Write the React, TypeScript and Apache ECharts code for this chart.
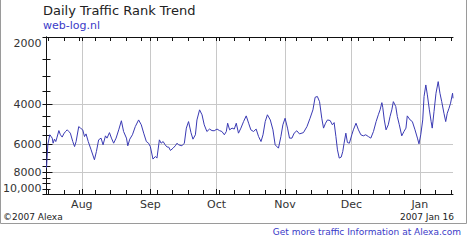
import React, { useEffect, useRef } from "react";
import * as echarts from "echarts";

// Day offsets counted from 2006-07-16 (day 0) to 2007-01-16 (day 184)
const monthDays = [16, 47, 77, 108, 138, 169];
const monthNames = ["Aug", "Sep", "Oct", "Nov", "Dec", "Jan"];
const weekTicks = [1, 8, 15, 22, 29, 36, 43, 50, 57, 64, 71, 78, 85, 92, 99, 106, 113, 120, 127, 134, 141, 148, 155, 162, 169, 176, 183];
const yLabelValues = [2000, 4000, 6000, 8000, 10000];
const yMinorTicks = [2000, 2500, 3000, 3500, 4000, 4500, 5000, 5500, 6000, 6500, 7000, 7500, 8000, 8500, 9000, 9500, 10000];

const dayOffsets = [
  0, 0.6, 1.5, 2.6, 3.0, 3.6, 4.2, 4.8, 5.6, 6.3,
  7.1, 7.8, 8.6, 9.4, 10.1, 10.8, 11.9, 12.7, 13.4, 14.6,
  15.4, 16.4, 17.2, 17.9, 18.9, 20.2, 21.7, 22.6, 23.6, 24.7,
  25.6, 26.7, 27.4, 28.5, 29.4, 30.4, 31.5, 32.7, 33.9, 34.9,
  36.2, 36.8, 37.7, 38.9, 40.2, 41.7, 42.9, 44.0, 45.2, 46.2,
  47.0, 48.2, 49.3, 50.0, 51.1, 51.9, 52.8, 53.7, 54.6, 55.3,
  56.1, 57.3, 58.3, 59.1, 59.8, 61.3, 62.4, 63.3, 64.3, 65.4,
  66.3, 67.4, 68.1, 69.3, 70.4, 71.4, 72.6, 73.8, 74.9, 75.9,
  77.2, 78.3, 79.4, 80.5, 81.4, 82.0, 82.9, 84.0, 85.0, 85.9,
  86.9, 88.0, 89.2, 90.4, 91.5, 92.5, 93.7, 94.9, 96.0, 97.1,
  98.0, 99.0, 100.0, 101.3, 102.5, 103.5, 105.0, 106.1, 107.0, 108.0,
  109.1, 110.0, 111.1, 112.1, 113.3, 114.5, 116.3, 117.9, 119.3, 120.6,
  121.6, 122.6, 123.6, 124.6, 125.4, 126.3, 127.2, 128.4, 129.4, 130.2,
  131.0, 131.7, 132.5, 133.4, 134.1, 134.7, 135.5, 136.2, 137.1, 138.2,
  138.9, 140.1, 141.2, 142.3, 143.4, 144.5, 145.7, 146.8, 148.0, 149.2,
  150.2, 151.0, 151.8, 152.2, 152.9, 153.7, 154.7, 155.5, 156.3, 157.0,
  158.1, 158.8, 159.7, 160.8, 161.8, 162.7, 163.3, 164.6, 165.6, 166.8,
  167.9, 168.6, 169.4, 170.3, 170.9, 171.7, 172.4, 173.3, 174.1, 174.6,
  175.4, 176.3, 177.3, 178.1, 178.9, 179.9, 180.7, 181.4, 182.2, 182.9,
  183.8, 184.0,
];

const ranks = [
  7670, 6040, 5450, 5640, 5940, 5700, 5840, 5580, 5220, 5450,
  5580, 5400, 5270, 5180, 5270, 5360, 5840, 6150, 5840, 5010,
  5090, 5180, 5550, 5400, 5840, 6360, 7040, 6470, 5740, 5640,
  6040, 5510, 5640, 5330, 5640, 5940, 5640, 5180, 4720, 5270,
  5640, 6100, 5700, 5450, 5010, 4680, 4920, 5360, 5840, 5940,
  6150, 6990, 6810, 6920, 5740, 5940, 5840, 6040, 6180, 6180,
  6400, 6250, 6100, 5940, 6040, 6100, 5940, 5090, 4760, 5330,
  5700, 5450, 4680, 4220, 4440, 4920, 5270, 5140, 5220, 5230,
  5140, 5220, 5270, 5450, 5270, 4840, 5180, 5090, 5140, 4840,
  5360, 5090, 4760, 4490, 4840, 5180, 5270, 5140, 5550, 5840,
  5450, 4760, 4440, 4680, 5180, 6040, 6250, 5550, 4920, 4600,
  5090, 5640, 5640, 5360, 5230, 5400, 5330, 5010, 4600, 4220,
  3710, 3680, 3880, 4600, 5090, 4840, 4680, 4710, 4920, 4810,
  5550, 6360, 6920, 6850, 6470, 5940, 5360, 5900, 5940, 5450,
  5180, 4840, 5180, 5450, 5510, 5450, 5550, 5640, 5270, 4760,
  4440, 4220, 3920, 4110, 4680, 5180, 4920, 4520, 4220, 3880,
  4080, 4520, 4920, 5510, 5270, 5090, 4490, 4680, 4760, 5180,
  5640, 5980, 5450, 4680, 3680, 3270, 3620, 4220, 4760, 5090,
  4300, 3560, 3160, 3560, 3880, 4370, 4760, 4370, 4150, 3940,
  3560, 3750,
];

const FONT = "DejaVu Sans, Verdana, sans-serif";
const AXIS_COLOR = "#111";
const LABEL_COLOR = "#333";

export default function App() {
  const ref = useRef<HTMLDivElement>(null);

  useEffect(() => {
    if (!ref.current) return;
    const chart = echarts.init(ref.current, undefined, { renderer: "svg" });
    const n = Math.min(dayOffsets.length, ranks.length);
    const data: [number, number][] = [];
    for (let i = 0; i < n; i++) data.push([dayOffsets[i], ranks[i]]);

    const allTopTicks = Array.from(new Set([...monthDays, ...weekTicks])).sort((a, b) => a - b);

    const baseX = {
      type: "value" as const,
      min: 0,
      max: 184,
      splitLine: { show: false },
      axisLabel: { show: false },
    };
    const baseY = {
      type: "log" as const,
      logBase: 10,
      min: 2000,
      max: 10000,
      inverse: true,
      splitLine: { show: false },
      axisLabel: { show: false },
    };

    chart.setOption({
      animation: false,
      backgroundColor: "#fff",
      grid: { left: 46, top: 37, width: 407, height: 157, containLabel: false },
      xAxis: [
        {
          ...baseX,
          position: "bottom",
          axisLine: { show: true, lineStyle: { color: AXIS_COLOR, width: 1 } },
          axisTick: { show: true, inside: true, length: 5, customValues: monthDays, lineStyle: { color: AXIS_COLOR } },
          axisLabel: {
            show: true,
            customValues: monthDays,
            margin: 5,
            fontSize: 11,
            fontFamily: FONT,
            color: LABEL_COLOR,
            formatter: (v: number) => {
              const idx = monthDays.indexOf(Math.round(v));
              return idx >= 0 ? monthNames[idx] : "";
            },
          },
          splitLine: { show: true, lineStyle: { color: "#c8c8c8", width: 1 } },
        },
        {
          ...baseX,
          position: "bottom",
          axisLine: { show: false },
          axisTick: { show: true, inside: true, length: 4, customValues: weekTicks, lineStyle: { color: AXIS_COLOR } },
        },
        {
          ...baseX,
          position: "top",
          axisLine: { show: true, lineStyle: { color: AXIS_COLOR, width: 1 } },
          axisTick: { show: true, inside: true, length: 4, customValues: allTopTicks, lineStyle: { color: AXIS_COLOR } },
        },
      ],
      yAxis: [
        {
          ...baseY,
          position: "left",
          axisLine: { show: true, lineStyle: { color: AXIS_COLOR, width: 1 } },
          axisTick: { show: true, inside: true, length: 6, customValues: [4000, 6000, 8000], lineStyle: { color: AXIS_COLOR } },
          axisLabel: {
            show: true,
            customValues: yLabelValues,
            margin: 5,
            fontSize: 11,
            fontFamily: FONT,
            color: LABEL_COLOR,
            formatter: (v: number) => {
              const r = Math.round(v);
              if (r === 2000) return "{t|2000}";
              if (r === 10000) return "{b|10,000}";
              return String(r);
            },
            rich: {
              t: { fontSize: 11, fontFamily: FONT, color: LABEL_COLOR, padding: [12, 0, 0, 0] },
              b: { fontSize: 11, fontFamily: FONT, color: LABEL_COLOR, padding: [0, 0, 12, 0] },
            },
          },
          splitLine: { show: true, lineStyle: { color: "#c8c8c8", width: 1 } },
        },
        {
          ...baseY,
          position: "left",
          axisLine: { show: false },
          axisTick: { show: true, inside: true, length: 4, customValues: yMinorTicks, lineStyle: { color: AXIS_COLOR } },
        },
        {
          ...baseY,
          position: "right",
          axisLine: { show: true, lineStyle: { color: AXIS_COLOR, width: 1 } },
          axisTick: { show: true, inside: true, length: 4, customValues: yMinorTicks, lineStyle: { color: AXIS_COLOR } },
        },
      ],
      series: [
        {
          type: "line",
          xAxisIndex: 0,
          yAxisIndex: 0,
          data,
          showSymbol: false,
          symbol: "none",
          lineStyle: { color: "#3a3ab4", width: 1 },
          itemStyle: { color: "#3a3ab4" },
          z: 5,
        },
      ],
      graphic: [
        {
          type: "polyline",
          silent: true,
          shape: { points: [[0.5, 0], [0.5, 223.5], [466.5, 223.5], [466.5, 0]] },
          style: { stroke: "#9a9a9a", lineWidth: 1, fill: "none" },
        },
        {
          type: "text",
          left: 43,
          top: 4,
          style: { text: "Daily Traffic Rank Trend", font: `13px ${FONT}`, fill: "#222" },
        },
        {
          type: "text",
          left: 43,
          top: 20,
          style: { text: "web-log.nl", font: `11px ${FONT}`, fill: "#3a3ac8" },
        },
        {
          type: "text",
          left: 3,
          top: 212,
          style: { text: "\u00a92007 Alexa", font: `9px ${FONT}`, fill: "#222" },
        },
        {
          type: "text",
          right: 14,
          top: 212,
          style: { text: "2007 Jan 16", font: `9px ${FONT}`, fill: "#222" },
        },
        {
          type: "text",
          right: 7,
          top: 227,
          style: { text: "Get more traffic Information at Alexa.com", font: `9px ${FONT}`, fill: "#3a3ac8" },
        },
      ],
    });

    return () => chart.dispose();
  }, []);

  return (
    <div
      ref={ref}
      style={{ position: "fixed", left: 0, top: 0, width: 468, height: 240, background: "#fff" }}
    />
  );
}
